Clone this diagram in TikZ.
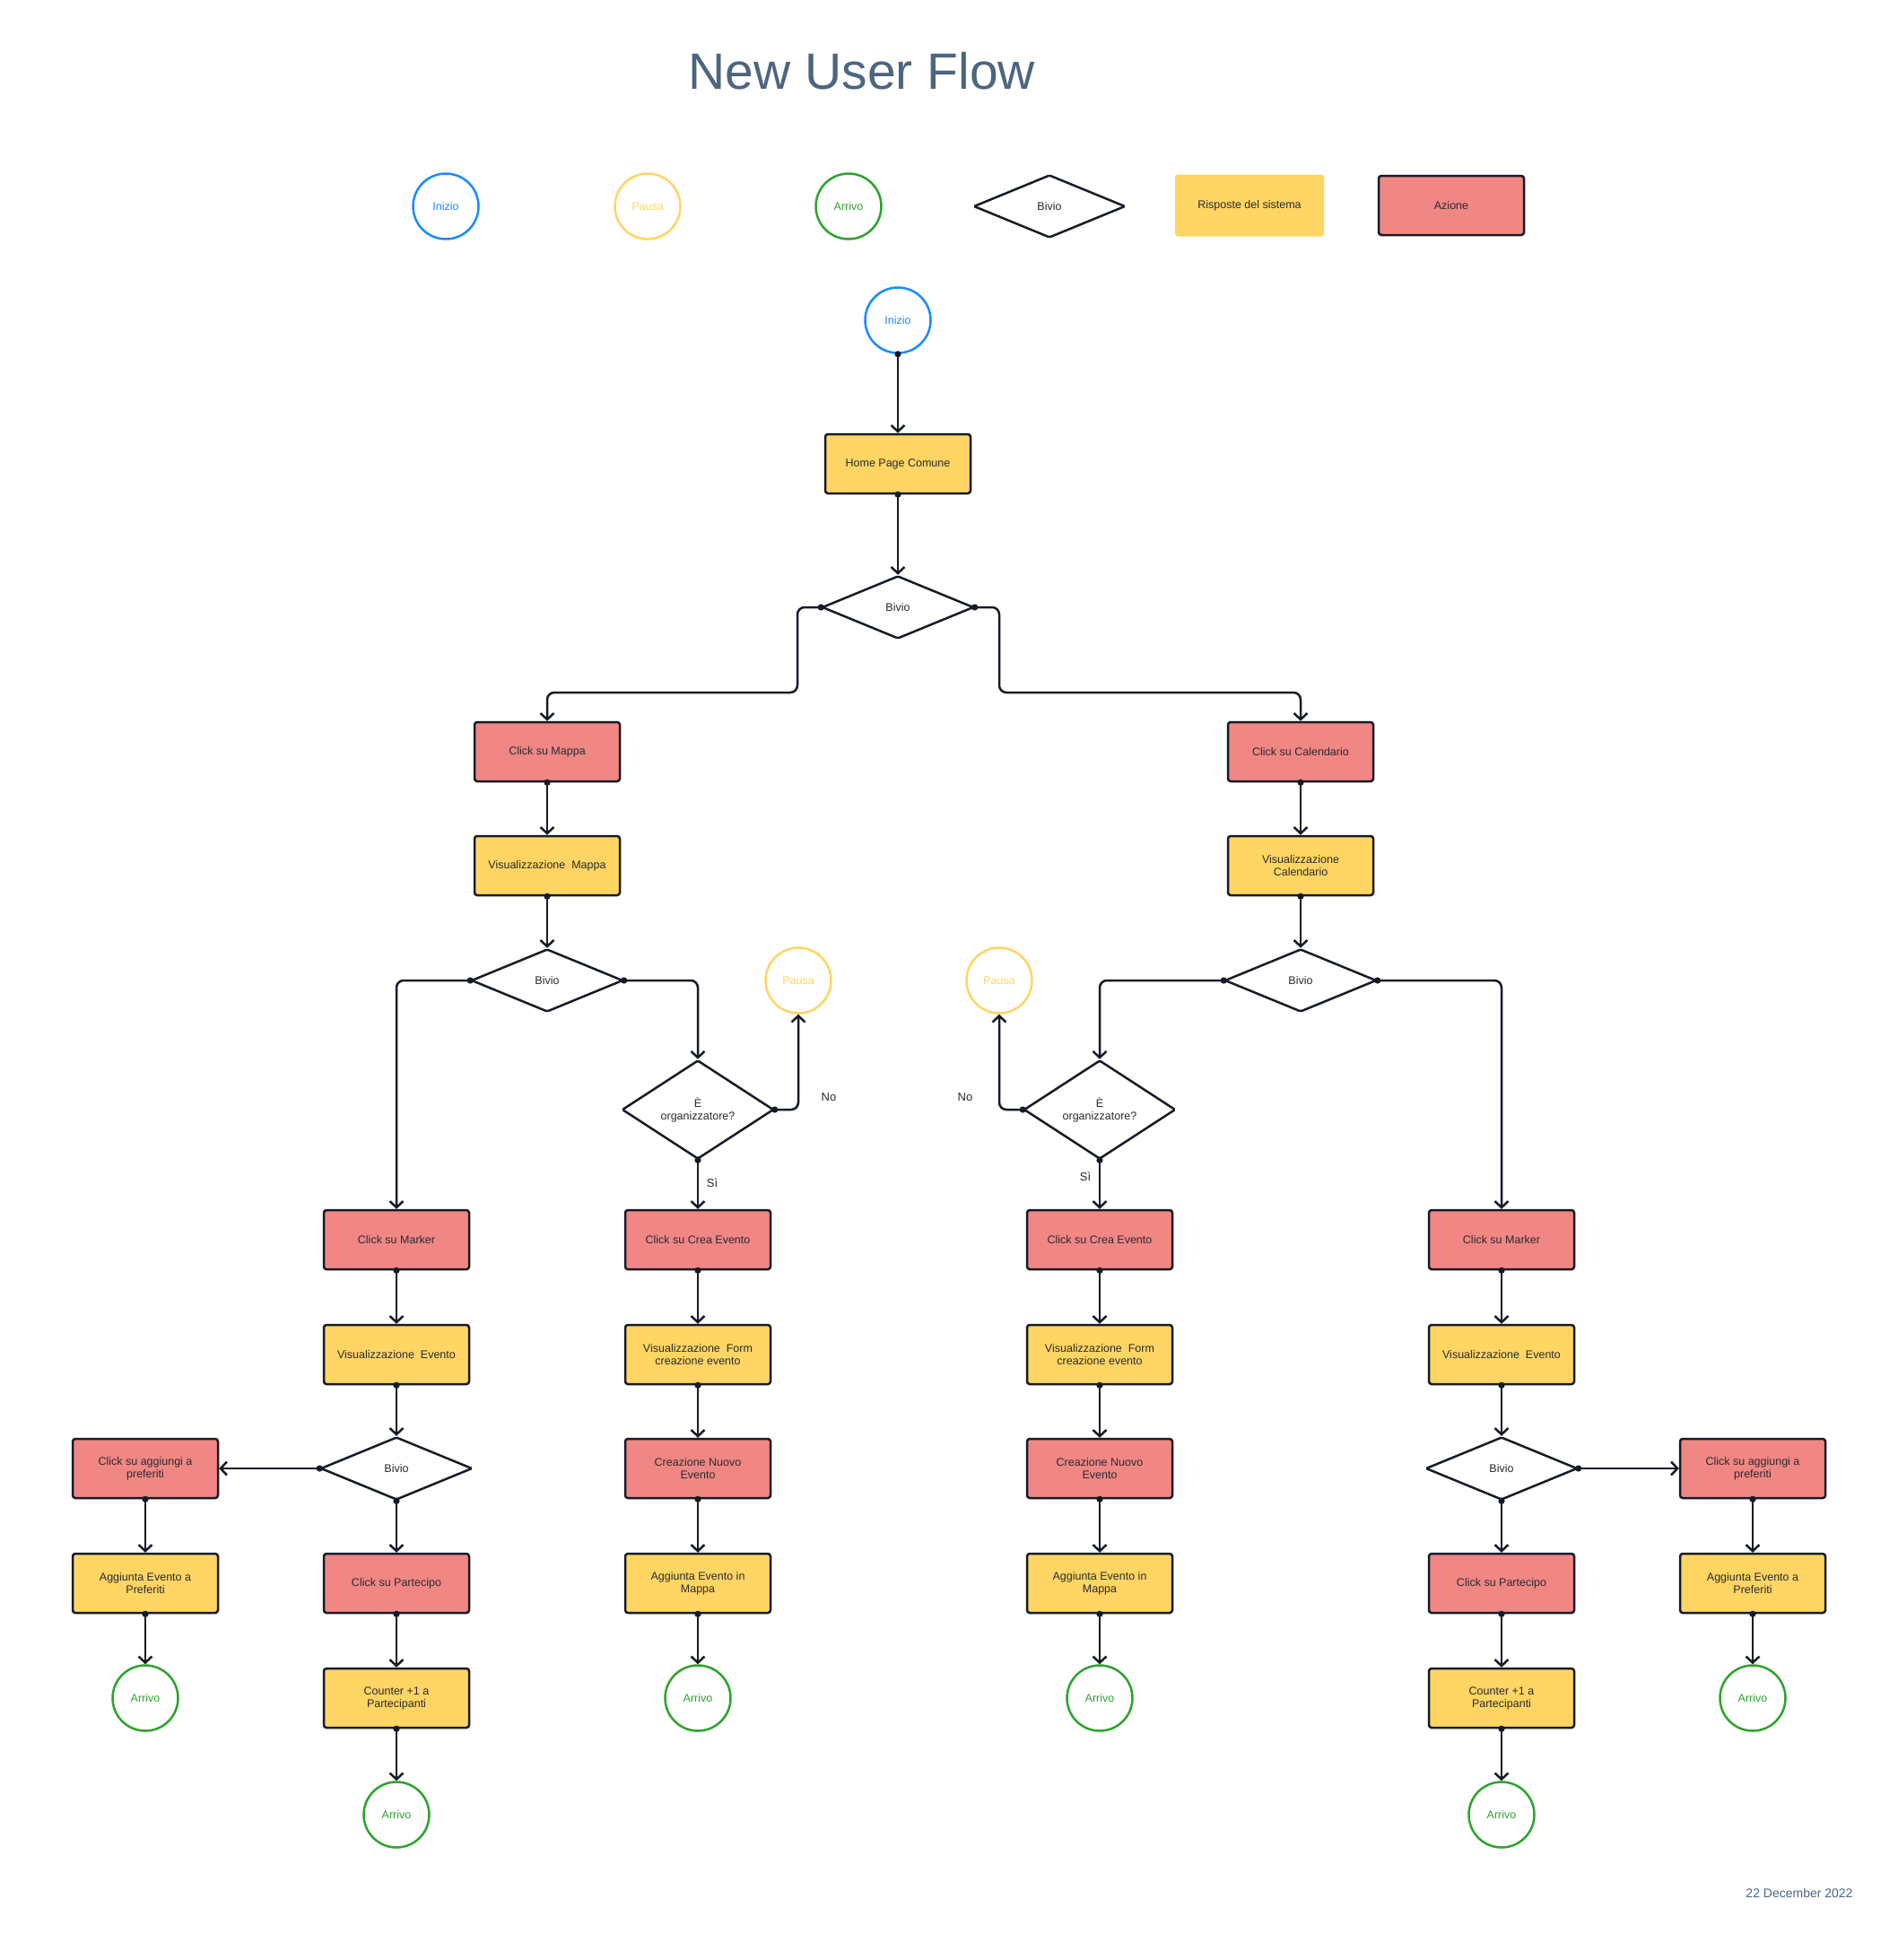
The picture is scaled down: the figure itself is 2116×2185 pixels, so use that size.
\documentclass[tikz,border=0pt]{standalone}
\usepackage{fontspec}
\setmainfont{Liberation Sans}
\usetikzlibrary{shapes.geometric,arrows.meta}
\definecolor{ink}{HTML}{161B26}
\definecolor{txt}{HTML}{2A2A30}
\definecolor{yelf}{HTML}{FFD563}
\definecolor{redf}{HTML}{F08784}
\definecolor{bluec}{HTML}{1A8CFF}
\definecolor{greenc}{HTML}{2DA42D}
\definecolor{titlec}{HTML}{4D6580}
\begin{document}
\begin{tikzpicture}[x=1pt,y=-1pt,
  base/.style={font=\fontsize{12.5}{14}\selectfont, text=txt, align=center, inner sep=0pt},
  act/.style={base, rectangle, rounded corners=3pt, draw=ink, line width=2.5pt, fill=redf, minimum width=162pt, minimum height=66pt},
  resp/.style={act, fill=yelf},
  legresp/.style={base, rectangle, rounded corners=3pt, fill=yelf, minimum width=166pt, minimum height=69pt},
  dec/.style={base, diamond, draw=ink, line width=2.5pt, fill=white, minimum width=169pt, minimum height=70pt, rounded corners=1.5pt},
  org/.style={dec, minimum height=101pt},
  startc/.style={base, circle, draw=bluec, text=bluec, line width=2.5pt, minimum size=73pt},
  pausec/.style={startc, draw=yelf, text=yelf},
  endc/.style={startc, draw=greenc, text=greenc},
  lbl/.style={base, font=\fontsize{13}{14}\selectfont},
  conn/.style={draw=ink, line width=2.5pt, {Circle[length=7pt]}-{Straight Barb[length=7pt,width=15pt]}, shorten <=-3.5pt},
  elbow/.style={conn, rounded corners=8pt}
]
\useasboundingbox (0,0) rectangle (2116,2185);
\fill[white] (0,0) rectangle (2116,2185);

% title and date
\node[text=titlec, font=\fontsize{57}{60}\selectfont, inner sep=0pt] (title) at (961,79) {New User Flow};
\node[text=titlec, font=\fontsize{14}{16}\selectfont, inner sep=0pt] (date) at (2006,2110) {22 December 2022};

% legend
\node[startc] (lg1) at (497,230) {Inizio};
\node[pausec] (lg2) at (722,230) {Pausa};
\node[endc] (lg3) at (946,230) {Arrivo};
\node[dec] (lg4) at (1170,230) {Bivio};
\node[legresp] (lg5) at (1393,229) {Risposte del sistema};
\node[act] (lg6) at (1618,229) {Azione};

% main flow
\node[startc] (start) at (1001,357) {Inizio};
\node[resp] (home) at (1001,517) {Home Page Comune};
\node[dec] (b1) at (1001,677) {Bivio};
\node[act] (cmap) at (610,838) {Click su Mappa};
\node[act] (ccal) at (1450,838) {Click su Calendario};
\node[resp] (vmap) at (610,965) {Visualizzazione~ Mappa};
\node[resp] (vcal) at (1450,965) {Visualizzazione\\Calendario};
\node[dec] (b2l) at (610,1093) {Bivio};
\node[dec] (b2r) at (1450,1093) {Bivio};
\node[pausec] (pl) at (890,1093) {Pausa};
\node[pausec] (pr) at (1114,1093) {Pausa};
\node[org] (ol) at (778,1237) {È\\organizzatore?};
\node[org] (orr) at (1226,1237) {È\\organizzatore?};
\node[lbl] (nol) at (924,1223) {No};
\node[lbl] (nor) at (1076,1223) {No};
\node[lbl] (sil) at (794,1319) {Sì};
\node[lbl] (sir) at (1210,1312) {Sì};

\node[act] (mkl) at (442,1382) {Click su Marker};
\node[act] (crl) at (778,1382) {Click su Crea Evento};
\node[act] (crr) at (1226,1382) {Click su Crea Evento};
\node[act] (mkr) at (1674,1382) {Click su Marker};

\node[resp] (vel) at (442,1510) {Visualizzazione~ Evento};
\node[resp] (vfl) at (778,1510) {Visualizzazione~ Form\\creazione evento};
\node[resp] (vfr) at (1226,1510) {Visualizzazione~ Form\\creazione evento};
\node[resp] (ver) at (1674,1510) {Visualizzazione~ Evento};

\node[act] (cal) at (162,1637) {Click su aggiungi a\\preferiti};
\node[dec] (b3l) at (442,1637) {Bivio};
\node[act] (cnl) at (778,1637) {Creazione Nuovo\\Evento};
\node[act] (cnr) at (1226,1637) {Creazione Nuovo\\Evento};
\node[dec] (b3r) at (1674,1637) {Bivio};
\node[act] (car) at (1954,1637) {Click su aggiungi a\\preferiti};

\node[resp] (apl) at (162,1765) {Aggiunta Evento a\\Preferiti};
\node[act] (ppl) at (442,1765) {Click su Partecipo};
\node[resp] (aml) at (778,1765) {Aggiunta Evento in\\Mappa};
\node[resp] (amr) at (1226,1765) {Aggiunta Evento in\\Mappa};
\node[act] (ppr) at (1674,1765) {Click su Partecipo};
\node[resp] (apr) at (1954,1765) {Aggiunta Evento a\\Preferiti};

\node[endc] (al1) at (162,1893) {Arrivo};
\node[resp] (ctl) at (442,1893) {Counter +1 a\\Partecipanti};
\node[endc] (al2) at (778,1893) {Arrivo};
\node[endc] (ar2) at (1226,1893) {Arrivo};
\node[resp] (ctr) at (1674,1893) {Counter +1 a\\Partecipanti};
\node[endc] (ar1) at (1954,1893) {Arrivo};

\node[endc] (al3) at (442,2023) {Arrivo};
\node[endc] (ar3) at (1674,2023) {Arrivo};

% connectors
\draw[conn] (start.south) -- (home.north);
\draw[conn] (home.south) -- (b1.north);
\draw[elbow] (b1.west) -| (889,772) -| (cmap.north);
\draw[elbow] (b1.east) -| (1114,772) -| (ccal.north);
\draw[conn] (cmap.south) -- (vmap.north);
\draw[conn] (ccal.south) -- (vcal.north);
\draw[conn] (vmap.south) -- (b2l.north);
\draw[conn] (vcal.south) -- (b2r.north);
\draw[elbow] (b2l.west) -| (mkl.north);
\draw[elbow] (b2l.east) -| (ol.north);
\draw[elbow] (ol.east) -| (pl.south);
\draw[elbow] (b2r.west) -| (orr.north);
\draw[elbow] (b2r.east) -| (mkr.north);
\draw[elbow] (orr.west) -| (pr.south);
\draw[conn] (ol.south) -- (crl.north);
\draw[conn] (orr.south) -- (crr.north);

\draw[conn] (mkl.south) -- (vel.north);
\draw[conn] (crl.south) -- (vfl.north);
\draw[conn] (crr.south) -- (vfr.north);
\draw[conn] (mkr.south) -- (ver.north);
\draw[conn] (vel.south) -- (b3l.north);
\draw[conn] (vfl.south) -- (cnl.north);
\draw[conn] (vfr.south) -- (cnr.north);
\draw[conn] (ver.south) -- (b3r.north);
\draw[conn] (b3l.west) -- (cal.east);
\draw[conn] (b3r.east) -- (car.west);
\draw[conn] (cal.south) -- (apl.north);
\draw[conn] (b3l.south) -- (ppl.north);
\draw[conn] (cnl.south) -- (aml.north);
\draw[conn] (cnr.south) -- (amr.north);
\draw[conn] (b3r.south) -- (ppr.north);
\draw[conn] (car.south) -- (apr.north);
\draw[conn] (apl.south) -- (al1.north);
\draw[conn] (ppl.south) -- (ctl.north);
\draw[conn] (aml.south) -- (al2.north);
\draw[conn] (amr.south) -- (ar2.north);
\draw[conn] (ppr.south) -- (ctr.north);
\draw[conn] (apr.south) -- (ar1.north);
\draw[conn] (ctl.south) -- (al3.north);
\draw[conn] (ctr.south) -- (ar3.north);
\end{tikzpicture}
\end{document}
